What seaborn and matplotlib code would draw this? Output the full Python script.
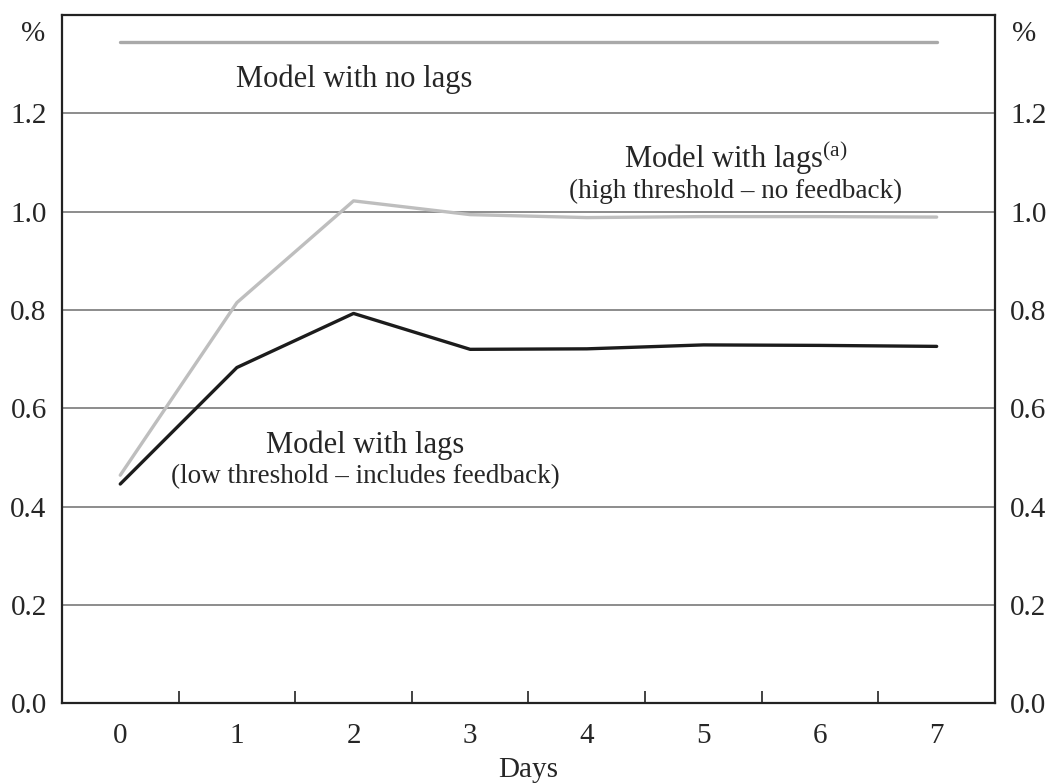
import numpy as np
import pandas as pd
import matplotlib
matplotlib.use("Agg")
import matplotlib.pyplot as plt
import seaborn as sns
from matplotlib.ticker import MultipleLocator, FixedLocator

# --- Data ---
days = [0, 1, 2, 3, 4, 5, 6, 7]
no_lags = [1.345, 1.345, 1.345, 1.345, 1.345, 1.345, 1.345, 1.345]
high_threshold = [0.464, 0.815, 1.022, 0.994, 0.988, 0.990, 0.990, 0.989]
low_threshold = [0.446, 0.683, 0.793, 0.720, 0.721, 0.729, 0.728, 0.726]

y_ticks = [0.0, 0.2, 0.4, 0.6, 0.8, 1.0, 1.2]

df = pd.DataFrame({
    "Days": days,
    "no_lags": no_lags,
    "high": high_threshold,
    "low": low_threshold,
})

sns.set_style("white")
plt.rcParams["font.family"] = ["Liberation Serif", "DejaVu Serif"]
plt.rcParams["mathtext.fontset"] = "custom"
plt.rcParams["mathtext.rm"] = "Liberation Serif"

fig = plt.figure(figsize=(10.5, 7.83), dpi=100)
ax = fig.add_axes([0.059, 0.1018, 0.8886, 0.879])

# grid lines
for yv in y_ticks[1:]:
    ax.axhline(yv, color="#6e6e6e", lw=1.1, zorder=1)

sns.lineplot(data=df, x="Days", y="no_lags", color="#a9a9a9", lw=2.4, ax=ax, zorder=3)
sns.lineplot(data=df, x="Days", y="high", color="#bebebe", lw=2.4, ax=ax, zorder=3)
sns.lineplot(data=df, x="Days", y="low", color="#1c1c1c", lw=2.4, ax=ax, zorder=4)

ax.set_xlim(-0.5, 7.5)
ax.set_ylim(0, 1.4)

# x axis: labels at whole days, tick marks at half days
ax.xaxis.set_major_locator(FixedLocator(days))
ax.xaxis.set_minor_locator(FixedLocator([d + 0.5 for d in days[:-1]]))
ax.tick_params(axis="x", which="major", length=0, pad=14, labelsize=21)
ax.tick_params(axis="x", which="minor", direction="in", length=8.5, width=1.2,
               color="#222222", bottom=True)
ax.set_xlabel("Days", fontsize=21, labelpad=6)
ax.set_ylabel("")

ax.set_yticks(y_ticks)
ax.set_yticklabels([f"{v:.1f}" for v in y_ticks])
ax.tick_params(axis="y", which="major", length=0, pad=11, labelsize=21,
               left=False, right=False, labelleft=True, labelright=True)

for side in ["left", "right", "top", "bottom"]:
    ax.spines[side].set_visible(True)
    ax.spines[side].set_color("#222222")
    ax.spines[side].set_linewidth(1.6)

# % unit markers
ax.annotate("%", xy=(0, 1.362), xycoords=("axes fraction", "data"),
            xytext=(-12, 0), textcoords="offset points",
            ha="right", va="center", fontsize=21)
ax.annotate("%", xy=(1, 1.362), xycoords=("axes fraction", "data"),
            xytext=(12, 0), textcoords="offset points",
            ha="left", va="center", fontsize=21)

# series labels
ax.text(2.005, 1.2545, "Model with no lags", ha="center", va="baseline", fontsize=22)
ax.text(5.279, 1.088, r"Model with lags$^{\mathrm{(a)}}$", ha="center", va="baseline", fontsize=22)
ax.text(5.279, 1.028, "(high threshold \u2013 no feedback)", ha="center", va="baseline", fontsize=19.5)
ax.text(2.10, 0.51, "Model with lags", ha="center", va="baseline", fontsize=22)
ax.text(2.10, 0.4476, "(low threshold \u2013 includes feedback)", ha="center", va="baseline", fontsize=19.5)

fig.savefig("out.png", dpi=100)
